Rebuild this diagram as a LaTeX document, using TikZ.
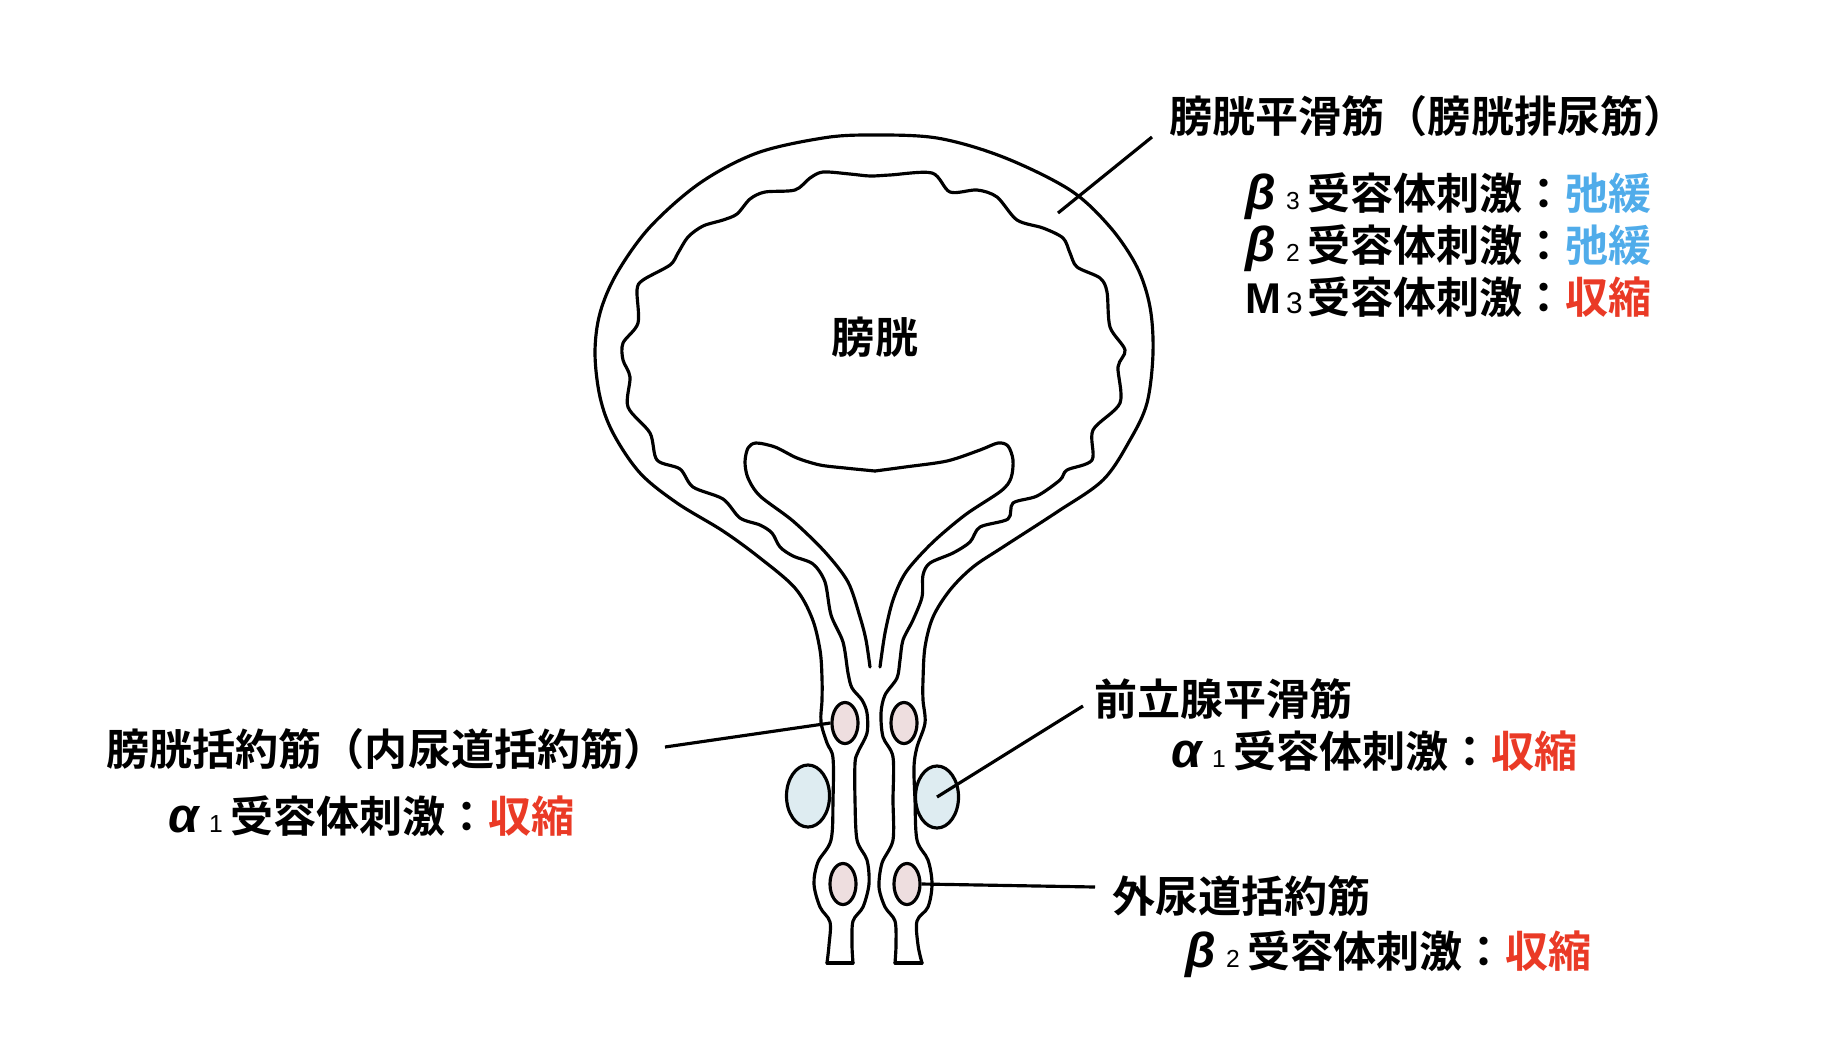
\documentclass[tikz,border=0pt]{standalone}
\usepackage{fontspec}
\usetikzlibrary{shapes.geometric,calc}
\newfontfamily\jp{Noto Sans CJK JP}[UprightFont=* Bold]
\newfontfamily\grk{Liberation Sans}
\definecolor{relaxblue}{RGB}{80,172,234}
\definecolor{contractred}{RGB}{234,58,38}
\definecolor{sphpink}{RGB}{238,222,223}
\definecolor{prosblue}{RGB}{222,236,241}
\newcommand{\jplabel}{\jp\fontsize{12.24pt}{14pt}\selectfont}
\newcommand{\gk}[1]{{\grk\fontsize{14pt}{14pt}\selectfont\bfseries\itshape #1}}
\newcommand{\rno}[2][7pt]{{\grk\fontsize{#1}{#1}\selectfont #2}}
\newcommand{\rcp}[2]{\makebox[17.6pt][l]{\rlap{#1}\hspace{11.5pt}#2}}
\begin{document}
\begin{tikzpicture}[x=0.01cm,y=-0.01cm,
    wall/.style={line width=0.9pt,line join=round,line cap=round},
    lead/.style={line width=0.9pt},
    pinkoval/.style={ellipse,draw,line width=0.9pt,fill=sphpink,inner sep=0pt,minimum width=0.26cm,minimum height=0.41cm},
    blueoval/.style={ellipse,draw,line width=0.9pt,fill=prosblue,inner sep=0pt,minimum width=0.43cm,minimum height=0.62cm},
    lbl/.style={anchor=base west,inner sep=0pt,font=\jplabel}]
    \useasboundingbox (0,0) rectangle (1836,1060);
    \fill[white] (0,0) rectangle (1836,1060);
    % Draw the outer wall of the bladder and urethra
    \draw[wall] plot[smooth,tension=0.55] coordinates {(827,963) (829,945) (830,922) (820,907) (814,884) (818,862) (831,840) (833,800) (833,758) (827,743) (821,722) (822,700) (822,678) (820,650) (812,618) (795,588) (760,558) (723,531) (677,503) (640,473) (613,433) (600,397) (595,353) (600,313) (617,273) (650,227) (700,183) (757,153) (823,138) (870,135) (937,138) (1003,157) (1070,190) (1110,227) (1137,267) (1150,307) (1153,353) (1147,403) (1130,440) (1103,480) (1057,512) (1003,547) (973,567) (950,590) (933,617) (925,647) (923,680) (923,700) (925,723) (917,747) (914,767) (915,800) (917,840) (928,860) (932,884) (928,907) (917,921) (918,945) (922,963)};
    % Draw the mucosa
    \draw[wall] plot[smooth,tension=0.5] coordinates {(853,963) (852,945) (853,921) (863,907) (869,884) (867,860) (857,840) (855,800) (855,763) (858,752) (867,733) (867,713) (862,700) (852,688) (848,673) (843,642) (831,615) (825,582) (813,564) (793,556) (780,547) (772,533) (760,525) (740,518) (723,499) (693,487) (680,469) (657,460) (650,433) (628,407) (630,377) (623,360) (623,343) (638,323) (637,290) (643,280) (670,265) (678,253) (688,237) (703,226) (723,220) (737,214) (750,199) (765,192) (795,190) (810,178) (823,172) (850,174) (870,176) (890,175) (932,173) (950,192) (977,190) (997,197) (1017,220) (1043,228) (1063,238) (1070,253) (1077,267) (1100,278) (1107,292) (1110,327) (1125,350) (1118,367) (1120,403) (1093,430) (1092,460) (1067,470) (1060,480) (1037,496) (1013,503) (1008,519) (980,527) (970,542) (953,553) (930,563) (923,575) (922,597) (913,620) (903,640) (900,660) (897,678) (885,695) (881,713) (883,737) (893,757) (893,800) (893,840) (882,863) (879,887) (885,907) (895,921) (896,945) (895,963)};
    % Close the ends of the urethra
    \draw[wall] (827,963) -- (853,963);
    \draw[wall] (895,963) -- (922,963);
    % Draw the trigone
    \draw[wall] plot[smooth,tension=0.5] coordinates {(870,667) (866,640) (860,617) (848,582) (825,552) (793,521) (760,496) (748,478) (745,462) (748,448) (756,443) (775,447) (797,458) (820,465) (845,468) (875,471)};
    \draw[wall] plot[smooth,tension=0.5] coordinates {(875,471) (905,467) (947,461) (980,450) (998,443) (1008,446) (1013,460) (1011,478) (1001,491) (965,515) (932,543) (906,572) (893,600) (885,633) (880,667)};
    % Sphincters and prostate
    \node[pinkoval] (isL) at (845,723) {};
    \node[pinkoval] (isR) at (904,723) {};
    \node[blueoval] (prL) at (808,796) {};
    \node[blueoval] (prR) at (937,797) {};
    \node[pinkoval] (exL) at (843,884) {};
    \node[pinkoval] (exR) at (907,884) {};
    % Labels
    \node[font=\jplabel,inner sep=0pt] (bladder) at (875,337) {膀胱};
    \node[lbl] (smLbl) at (1169,132) {膀胱平滑筋（膀胱排尿筋）};
    \node[lbl] (smB3) at (1245,209) {\rcp{\gk{β}}{\rno{3}}受容体刺激：\textcolor{relaxblue}{弛緩}};
    \node[lbl] (smB2) at (1245,261) {\rcp{\gk{β}}{\rno{2}}受容体刺激：\textcolor{relaxblue}{弛緩}};
    \node[lbl] (smM3) at (1245,313) {\rcp{{\grk\bfseries M}}{\rno[8.5pt]{3}}受容体刺激：\textcolor{contractred}{収縮}};
    \node[lbl] (isLbl) at (106,765) {膀胱括約筋（内尿道括約筋）};
    \node[lbl] (isA1) at (168,832) {\rcp{\gk{α}}{\rno{1}}受容体刺激：\textcolor{contractred}{収縮}};
    \node[lbl] (ptLbl) at (1094,715) {前立腺平滑筋};
    \node[lbl] (ptA1) at (1171,767) {\rcp{\gk{α}}{\rno{1}}受容体刺激：\textcolor{contractred}{収縮}};
    \node[lbl] (exLbl) at (1112,912) {外尿道括約筋};
    \node[lbl] (exB2) at (1185,967) {\rcp{\gk{β}}{\rno{2}}受容体刺激：\textcolor{contractred}{収縮}};
    % Leader lines
    \coordinate (smEnd) at (1058,213);
    \draw[lead] ($(smLbl.base west)+(-17,5)$) -- (smEnd);
    \draw[lead] ($(isLbl.base east)+(-2,-18)$) -- (isL.west);
    \draw[lead] ($(ptLbl.base west)+(-11,-9)$) -- (prR.center);
    \draw[lead] (exR.east) -- ($(exLbl.base west)+(-17,-25)$);
\end{tikzpicture}
\end{document}
